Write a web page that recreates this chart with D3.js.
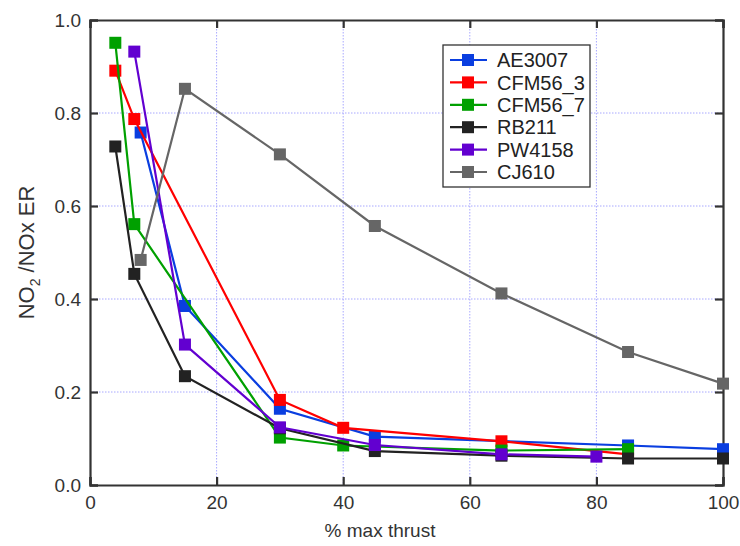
<!DOCTYPE html>
<html>
<head>
<meta charset="utf-8">
<script src="https://cdn.jsdelivr.net/npm/d3@7"></script>
<style>
  body { margin: 0; background: #fff; }
  svg { display: block; font-family: "Liberation Sans", Arial, sans-serif; }
</style>
</head>
<body>
<svg id="chart" width="740" height="546"></svg>
<script>
// ---- data ----
const seriesNames = ["AE3007", "CFM56_3", "CFM56_7", "RB211", "PW4158", "CJ610"];
const seriesColors = ["#0a3ee0", "#ff0000", "#00a000", "#222222", "#6200d0", "#666666"];

const AE3007_x  = [8, 15, 30, 45, 85, 100];
const AE3007_y  = [0.758, 0.385, 0.164, 0.104, 0.085, 0.077];

const CFM56_3_x = [4, 7, 30, 40, 65, 85];
const CFM56_3_y = [0.891, 0.787, 0.183, 0.123, 0.094, 0.066];

const CFM56_7_x = [4, 7, 30, 40, 65, 85];
const CFM56_7_y = [0.951, 0.561, 0.102, 0.085, 0.074, 0.077];

const RB211_x   = [4, 7, 15, 30, 45, 65, 85, 100];
const RB211_y   = [0.728, 0.454, 0.234, 0.122, 0.073, 0.063, 0.057, 0.057];

const PW4158_x  = [7, 15, 30, 45, 65, 80];
const PW4158_y  = [0.932, 0.302, 0.124, 0.086, 0.066, 0.061];

const CJ610_x   = [8, 15, 30, 45, 65, 85, 100];
const CJ610_y   = [0.484, 0.852, 0.711, 0.557, 0.412, 0.286, 0.218];

const xTicks = [0, 20, 40, 60, 80, 100];
const yTicks = [0.0, 0.2, 0.4, 0.6, 0.8, 1.0];

const seriesX = [AE3007_x, CFM56_3_x, CFM56_7_x, RB211_x, PW4158_x, CJ610_x];
const seriesY = [AE3007_y, CFM56_3_y, CFM56_7_y, RB211_y, PW4158_y, CJ610_y];

(function () {
// ---- layout ----
const svg = d3.select("#chart");
const L = 90, R = 723, T = 20, B = 485;
const x = d3.scaleLinear().domain([0, 100]).range([L, R]);
const y = d3.scaleLinear().domain([0, 1]).range([B, T]);

// grid
const grid = svg.append("g");
grid.selectAll("line.gx").data(xTicks.slice(1, -1)).enter().append("line")
  .attr("x1", d => x(d)).attr("x2", d => x(d)).attr("y1", T).attr("y2", B)
  .attr("stroke", "#a8a8ff").attr("stroke-width", 1).attr("stroke-dasharray", "1.5,1.5");
grid.selectAll("line.gy").data(yTicks.slice(1, -1)).enter().append("line")
  .attr("x1", L).attr("x2", R).attr("y1", d => y(d)).attr("y2", d => y(d))
  .attr("stroke", "#a8a8ff").attr("stroke-width", 1).attr("stroke-dasharray", "1.5,1.5");

// axes (inward ticks on all sides)
const axisColor = "#333";
const tl = 8;
const gBottom = svg.append("g").attr("transform", `translate(0,${B})`)
  .call(d3.axisBottom(x).tickValues(xTicks).tickSize(-tl).tickPadding(11).tickFormat(d3.format("d")));
const gTop = svg.append("g").attr("transform", `translate(0,${T})`)
  .call(d3.axisTop(x).tickValues(xTicks).tickSize(-tl).tickFormat(""));
const gLeft = svg.append("g").attr("transform", `translate(${L},0)`)
  .call(d3.axisLeft(y).tickValues(yTicks).tickSize(-tl).tickPadding(9).tickFormat(d3.format(".1f")));
const gRight = svg.append("g").attr("transform", `translate(${R},0)`)
  .call(d3.axisRight(y).tickValues(yTicks).tickSize(-tl).tickFormat(""));

[gBottom, gTop, gLeft, gRight].forEach(g => {
  g.select(".domain").attr("stroke", axisColor).attr("stroke-width", 2.2);
  g.selectAll(".tick line").attr("stroke", axisColor).attr("stroke-width", 2.2);
  g.selectAll(".tick text").attr("fill", "#333").style("font-size", "19px")
    .style("font-family", "Liberation Sans, Arial, sans-serif");
});

// series
const line = d3.line().x(d => x(d[0])).y(d => y(d[1]));
const ms = 12;
seriesNames.forEach((name, i) => {
  const pts = seriesX[i].map((xv, j) => [xv, seriesY[i][j]]);
  const g = svg.append("g");
  g.append("path").datum(pts).attr("d", line)
    .attr("fill", "none").attr("stroke", seriesColors[i]).attr("stroke-width", 2.2);
  g.selectAll("rect").data(pts).enter().append("rect")
    .attr("x", d => x(d[0]) - ms / 2).attr("y", d => y(d[1]) - ms / 2)
    .attr("width", ms).attr("height", ms).attr("fill", seriesColors[i]);
});

// legend
const lg = svg.append("g");
lg.append("rect").attr("x", 443).attr("y", 45).attr("width", 147).attr("height", 142)
  .attr("fill", "#fff").attr("stroke", "#333").attr("stroke-width", 1.3);
seriesNames.forEach((name, i) => {
  const cy = 60 + i * 22.4;
  lg.append("line").attr("x1", 450).attr("x2", 487).attr("y1", cy).attr("y2", cy)
    .attr("stroke", seriesColors[i]).attr("stroke-width", 2.2);
  lg.append("rect").attr("x", 468 - ms / 2).attr("y", cy - ms / 2).attr("width", ms).attr("height", ms)
    .attr("fill", seriesColors[i]);
  lg.append("text").attr("x", 497).attr("y", cy).attr("dy", "0.36em")
    .attr("fill", "#222").style("font-size", "20px").text(name);
});

// axis titles
svg.append("text").attr("x", 380).attr("y", 537).attr("text-anchor", "middle")
  .attr("fill", "#333").style("font-size", "19px").text("% max thrust");
const yt = svg.append("text").attr("transform", `translate(34,${(T + B) / 2}) rotate(-90)`)
  .attr("text-anchor", "middle").attr("fill", "#333").style("font-size", "22px");
yt.append("tspan").text("NO");
yt.append("tspan").attr("dy", 6).style("font-size", "14px").text("2");
yt.append("tspan").attr("dy", -6).text(" /NOx ER");
})();
</script>
</body>
</html>
